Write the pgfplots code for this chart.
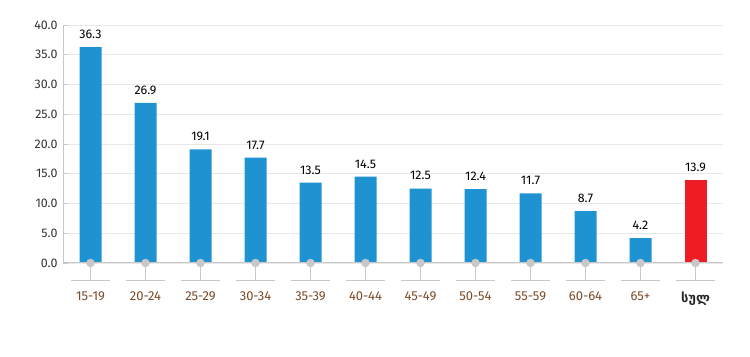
\documentclass[border=0pt]{standalone}
\usepackage{pgfplots}
\pgfplotsset{compat=1.18}
\usepackage{fontspec}
\setmainfont{Fira Sans}
\newfontfamily\geo{DejaVu Sans}
\definecolor{barblue}{HTML}{1F93D2}
\definecolor{barred}{HTML}{EE1C25}
\definecolor{lblbrown}{HTML}{7A4A26}
\definecolor{gridc}{HTML}{E8E8E8}
\definecolor{axc}{HTML}{C8C8C8}
\begin{document}
\begin{tikzpicture}[x=1bp,y=1bp]
\begin{axis}[
  at={(63bp,94bp)}, anchor=south west,
  scale only axis, width=660bp, height=238bp,
  xmin=-0.5, xmax=11.5, ymin=0, ymax=40,
  clip=false,
  axis line style={draw=none},
  ytick={0,5,...,40},
  /pgf/number format/fixed, /pgf/number format/fixed zerofill, /pgf/number format/precision=1, /pgf/number format/assume math mode=true,
  yticklabel style={font=\fontsize{12.5}{14}\selectfont, text=black!80, xshift=-2bp},
  ymajorgrids, grid style={gridc, line width=0.8bp},
  major tick length=5bp,
  ytick style={axc, line width=0.8bp},
  ytick pos=left,
  xtick={0,...,11},
  xtick style={draw=none},
  xticklabels={15-19,20-24,25-29,30-34,35-39,40-44,45-49,50-54,55-59,60-64,65+,{\geo\bfseries\fontsize{13}{14}\selectfont\color{black!85}სულ}},
  xticklabel style={font=\fontsize{13}{14}\selectfont, text=lblbrown, yshift=-25bp},
  bar width=22bp,
  nodes near coords,
  every node near coord/.append style={font=\fontsize{12.5}{14}\selectfont, text=black, yshift=5bp},
]
\addplot[ybar, fill=barblue, draw=none, bar shift=0pt] coordinates {(0,36.3) (1,26.9) (2,19.1) (3,17.7) (4,13.5) (5,14.5) (6,12.5) (7,12.4) (8,11.7) (9,8.7) (10,4.2)};
\addplot[ybar, fill=barred, draw=none, bar shift=0pt] coordinates {(11,13.9)};
\end{axis}
\begin{axis}[
  at={(63bp,94bp)}, anchor=south west,
  scale only axis, width=660bp, height=238bp,
  xmin=-0.5, xmax=11.5, ymin=0, ymax=40,
  clip=false, hide axis, unbounded coords=jump,
]
\draw[axc, line width=1bp] (axis cs:-0.5,0) -- (axis cs:11.5,0);
\draw[axc, line width=1bp] (axis cs:-0.5,0) -- (axis cs:-0.5,40);
\addplot[ycomb, draw=axc, line width=1.2bp, mark=none] coordinates {(0,-2.9) (1,-2.9) (2,-2.9) (3,-2.9) (4,-2.9) (5,-2.9) (6,-2.9) (7,-2.9) (8,-2.9) (9,-2.9) (10,-2.9) (11,-2.9)};
\addplot[draw=axc, line width=1bp, mark=none] coordinates {(-0.36,-2.9) (0.36,-2.9) (nan,nan) (0.64,-2.9) (1.36,-2.9) (nan,nan) (1.64,-2.9) (2.36,-2.9) (nan,nan) (2.64,-2.9) (3.36,-2.9) (nan,nan) (3.64,-2.9) (4.36,-2.9) (nan,nan) (4.64,-2.9) (5.36,-2.9) (nan,nan) (5.64,-2.9) (6.36,-2.9) (nan,nan) (6.64,-2.9) (7.36,-2.9) (nan,nan) (7.64,-2.9) (8.36,-2.9) (nan,nan) (8.64,-2.9) (9.36,-2.9) (nan,nan) (9.64,-2.9) (10.36,-2.9) (nan,nan) (10.64,-2.9) (11.36,-2.9)};
\addplot[only marks, mark=*, mark size=4bp, mark options={fill=axc, draw=axc}] coordinates {(0,0) (1,0) (2,0) (3,0) (4,0) (5,0) (6,0) (7,0) (8,0) (9,0) (10,0) (11,0)};
\end{axis}
\pgfresetboundingbox
\path (0,0) rectangle (750bp,357bp);
\end{tikzpicture}
\end{document}
